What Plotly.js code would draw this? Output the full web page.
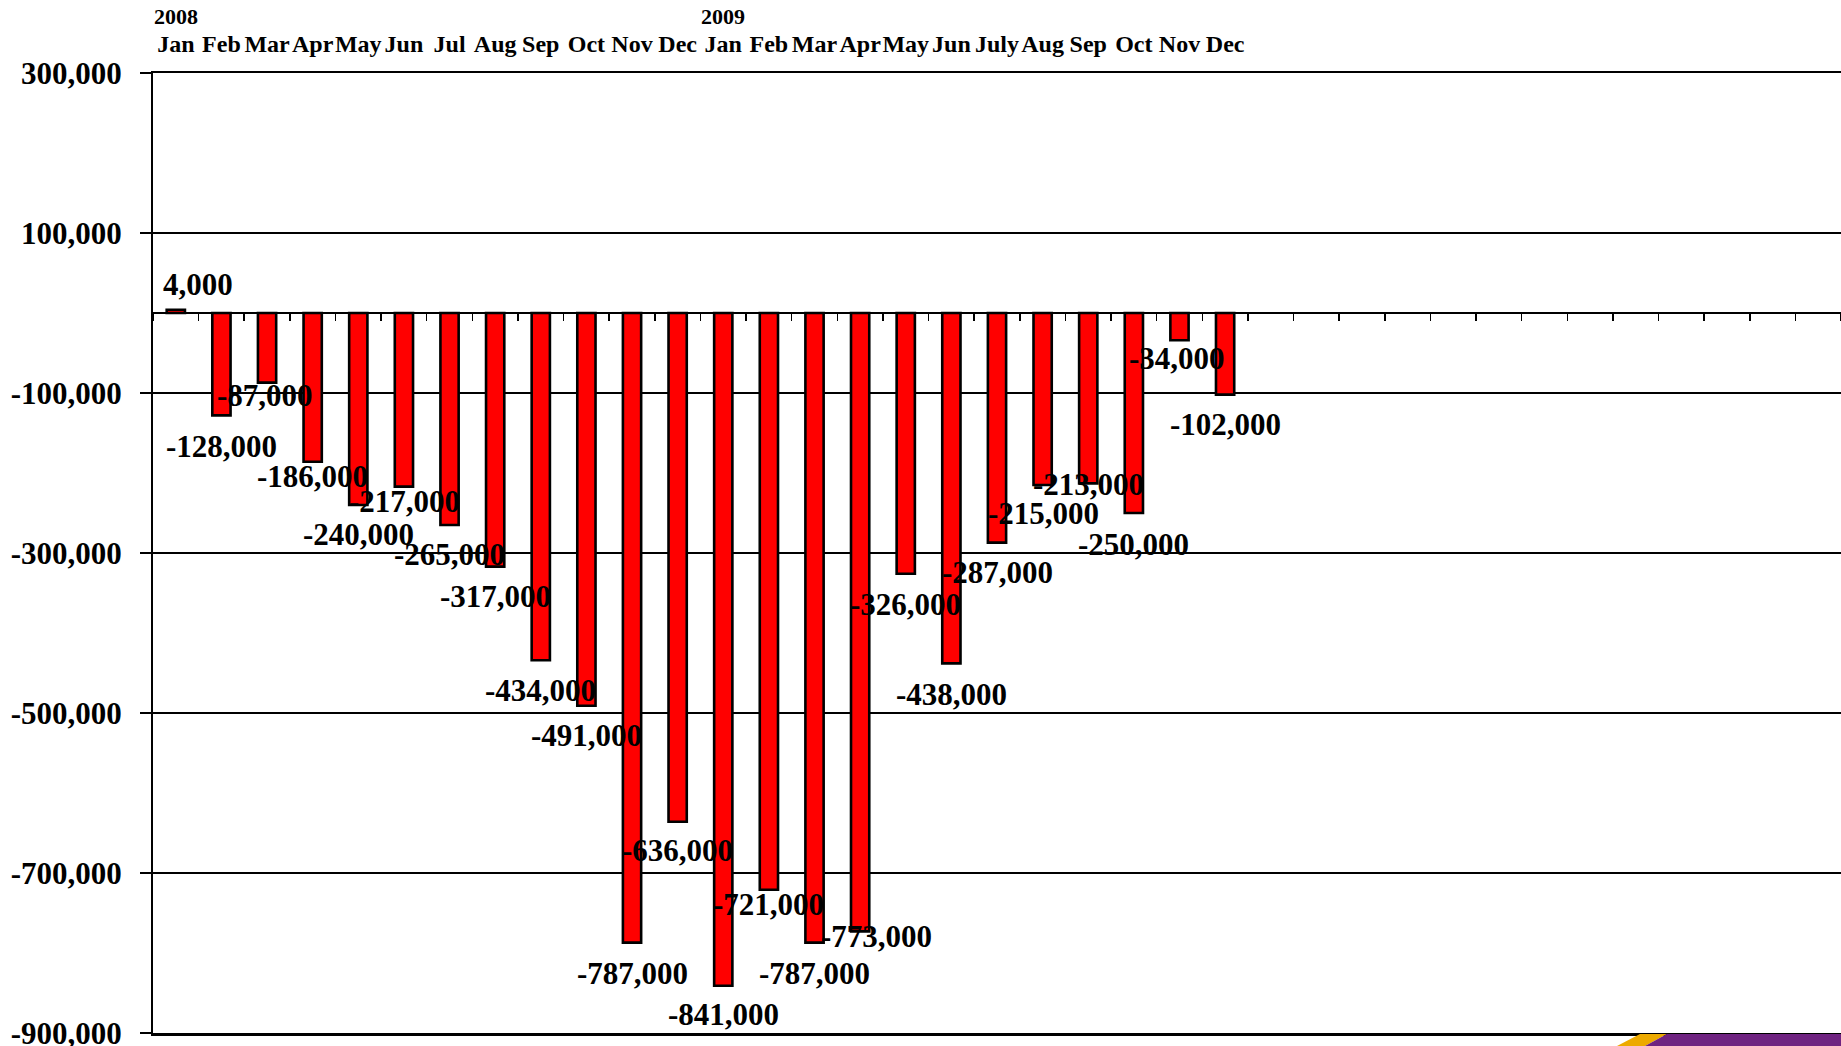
<!DOCTYPE html>
<html>
<head>
<meta charset="utf-8">
<script src="https://cdn.plot.ly/plotly-3.0.1.min.js"></script>
<style>
  html, body { margin: 0; padding: 0; background: #ffffff; }
  #chart { width: 1841px; height: 1046px; }
</style>
</head>
<body>
<div id="chart"></div>
<script>
// ---- data ----
var categories = [
  "Jan 2008","Feb 2008","Mar 2008","Apr 2008","May 2008","Jun 2008",
  "Jul 2008","Aug 2008","Sep 2008","Oct 2008","Nov 2008","Dec 2008",
  "Jan 2009","Feb 2009","Mar 2009","Apr 2009","May 2009","Jun 2009",
  "Jul 2009","Aug 2009","Sep 2009","Oct 2009","Nov 2009","Dec 2009"
];
var monthLabels = [
  "Jan","Feb","Mar","Apr","May","Jun","Jul","Aug","Sep","Oct","Nov","Dec",
  "Jan","Feb","Mar","Apr","May","Jun","July","Aug","Sep","Oct","Nov","Dec"
];
var yearLabels = ["2008", "2009"];
var yearCategories = ["Jan 2008", "Jan 2009"];
var jobChanges = [
  4000, -128000, -87000, -186000, -240000, -217000,
  -265000, -317000, -434000, -491000, -787000, -636000,
  -841000, -721000, -787000, -773000, -326000, -438000,
  -287000, -215000, -213000, -250000, -34000, -102000
];
var yTickVals = [300000, 100000, -100000, -300000, -500000, -700000, -900000];
var yTickLabels = ["300,000","100,000","-100,000","-300,000","-500,000","-700,000","-900,000"];

// ---- label placement offsets (pixels; dy positive = downward) ----
var labelDy = [-25, 31, 13, 15, 29, 15, 29, 30, 30, 30, 31, 29,
               29, 15, 31, 5, 31, 31, 30, 28, 1, 31, 18, 30];
var labelDx = [22, 0, -2, 0, 0, 1, 0, 0, 0, 0, 0, 0,
               0, 0, 0, 16, 0, 0, 0, 1, 0, 0, -2, 0];

// ---- layout geometry ----
var W = 1841, H = 1046;
var M = {l: 153, r: 0, t: 73, b: 13};
var plotW = W - M.l - M.r, plotH = H - M.t - M.b;
function px2x(px) { return (px - M.l) / plotW; }
function py2y(py) { return (H - M.b - py) / plotH; }

var FONT = "Liberation Serif, Times New Roman, serif";

var bars = {
  type: "bar",
  x: categories,
  y: jobChanges,
  marker: { color: "#ff0000", line: { color: "#000000", width: 2.6 } },
  hoverinfo: "x+y",
  showlegend: false
};

// invisible trace on helper axis (zero line with ticks)
var helper = {
  type: "scatter",
  x: [0], y: [0],
  xaxis: "x2",
  mode: "markers",
  marker: { opacity: 0 },
  hoverinfo: "skip",
  showlegend: false
};

var annotations = [];
for (var i = 0; i < categories.length; i++) {
  annotations.push({
    x: categories[i], y: jobChanges[i], xref: "x", yref: "y",
    text: jobChanges[i].toLocaleString("en-US"),
    showarrow: false, xanchor: "center", yanchor: "middle",
    xshift: labelDx[i], yshift: -labelDy[i],
    font: { family: FONT, size: 31, color: "#000000", weight: "bold" }
  });
}
for (var k = 0; k < yearLabels.length; k++) {
  annotations.push({
    x: yearCategories[k], y: 1, xref: "x", yref: "paper",
    text: yearLabels[k], showarrow: false,
    xanchor: "center", yanchor: "middle", yshift: 57,
    font: { family: FONT, size: 22, color: "#000000", weight: "bold" }
  });
}

var shapes = [
  { // gold stripe
    type: "path", xref: "paper", yref: "paper", layer: "above",
    path: "M " + px2x(1617) + "," + py2y(1046) +
          " L " + px2x(1640) + "," + py2y(1034) +
          " L " + px2x(1667) + "," + py2y(1034) +
          " L " + px2x(1645) + "," + py2y(1046) + " Z",
    fillcolor: "#EDAA00", line: { width: 0 }
  },
  { // purple band
    type: "path", xref: "paper", yref: "paper", layer: "above",
    path: "M " + px2x(1645) + "," + py2y(1046) +
          " L " + px2x(1667) + "," + py2y(1034) +
          " L " + px2x(1841) + "," + py2y(1034) +
          " L " + px2x(1841) + "," + py2y(1046) + " Z",
    fillcolor: "#6F2381", line: { width: 0 }
  }
];

var layout = {
  width: W, height: H,
  margin: M,
  paper_bgcolor: "#ffffff",
  plot_bgcolor: "#ffffff",
  bargap: 0.6,
  showlegend: false,
  font: { family: FONT, color: "#000000", weight: "bold" },
  xaxis: {
    type: "category",
    categoryorder: "array",
    categoryarray: categories,
    range: [-0.5, 36.5],
    side: "top",
    tickmode: "array",
    tickvals: categories,
    ticktext: monthLabels,
    tickangle: 0,
    ticks: "",
    ticklabelstandoff: 9,
    tickfont: { family: FONT, size: 24, color: "#000000", weight: "bold" },
    showgrid: false,
    zeroline: false,
    showline: true,
    mirror: true,
    linecolor: "#000000",
    linewidth: 2.5,
    fixedrange: true
  },
  xaxis2: {
    overlaying: "x",
    anchor: "free",
    position: 0.75,
    side: "bottom",
    range: [-0.5, 36.5],
    tickmode: "linear",
    tick0: 0.5,
    dtick: 1,
    ticks: "outside",
    ticklen: 7,
    tickwidth: 1.5,
    tickcolor: "#000000",
    showticklabels: false,
    showgrid: false,
    zeroline: false,
    showline: true,
    linecolor: "#000000",
    linewidth: 2,
    fixedrange: true
  },
  yaxis: {
    range: [-900000, 300000],
    tickmode: "array",
    tickvals: yTickVals,
    ticktext: yTickLabels,
    ticks: "outside",
    ticklen: 11,
    tickwidth: 1.5,
    tickcolor: "#000000",
    ticklabelstandoff: 12,
    ticklabeloverflow: "allow",
    tickfont: { family: FONT, size: 31, color: "#000000", weight: "bold" },
    showgrid: true,
    gridcolor: "#000000",
    gridwidth: 1.5,
    zeroline: false,
    showline: true,
    linecolor: "#000000",
    linewidth: 2,
    fixedrange: true
  },
  annotations: annotations,
  shapes: shapes
};

Plotly.newPlot("chart", [bars, helper], layout, { displayModeBar: false, staticPlot: true }).then(function () {
  // make sure the bottom tick label is present (Plotly may drop it at the range edge)
  var labels = document.querySelectorAll(".yaxislayer-above .ytick text");
  var found = false;
  labels.forEach(function (t) { if (t.textContent === yTickLabels[yTickLabels.length - 1]) found = true; });
  if (!found) {
    Plotly.relayout("chart", { "yaxis.range": [-900000 - 600, 300000] });
  }
});
</script>
</body>
</html>
